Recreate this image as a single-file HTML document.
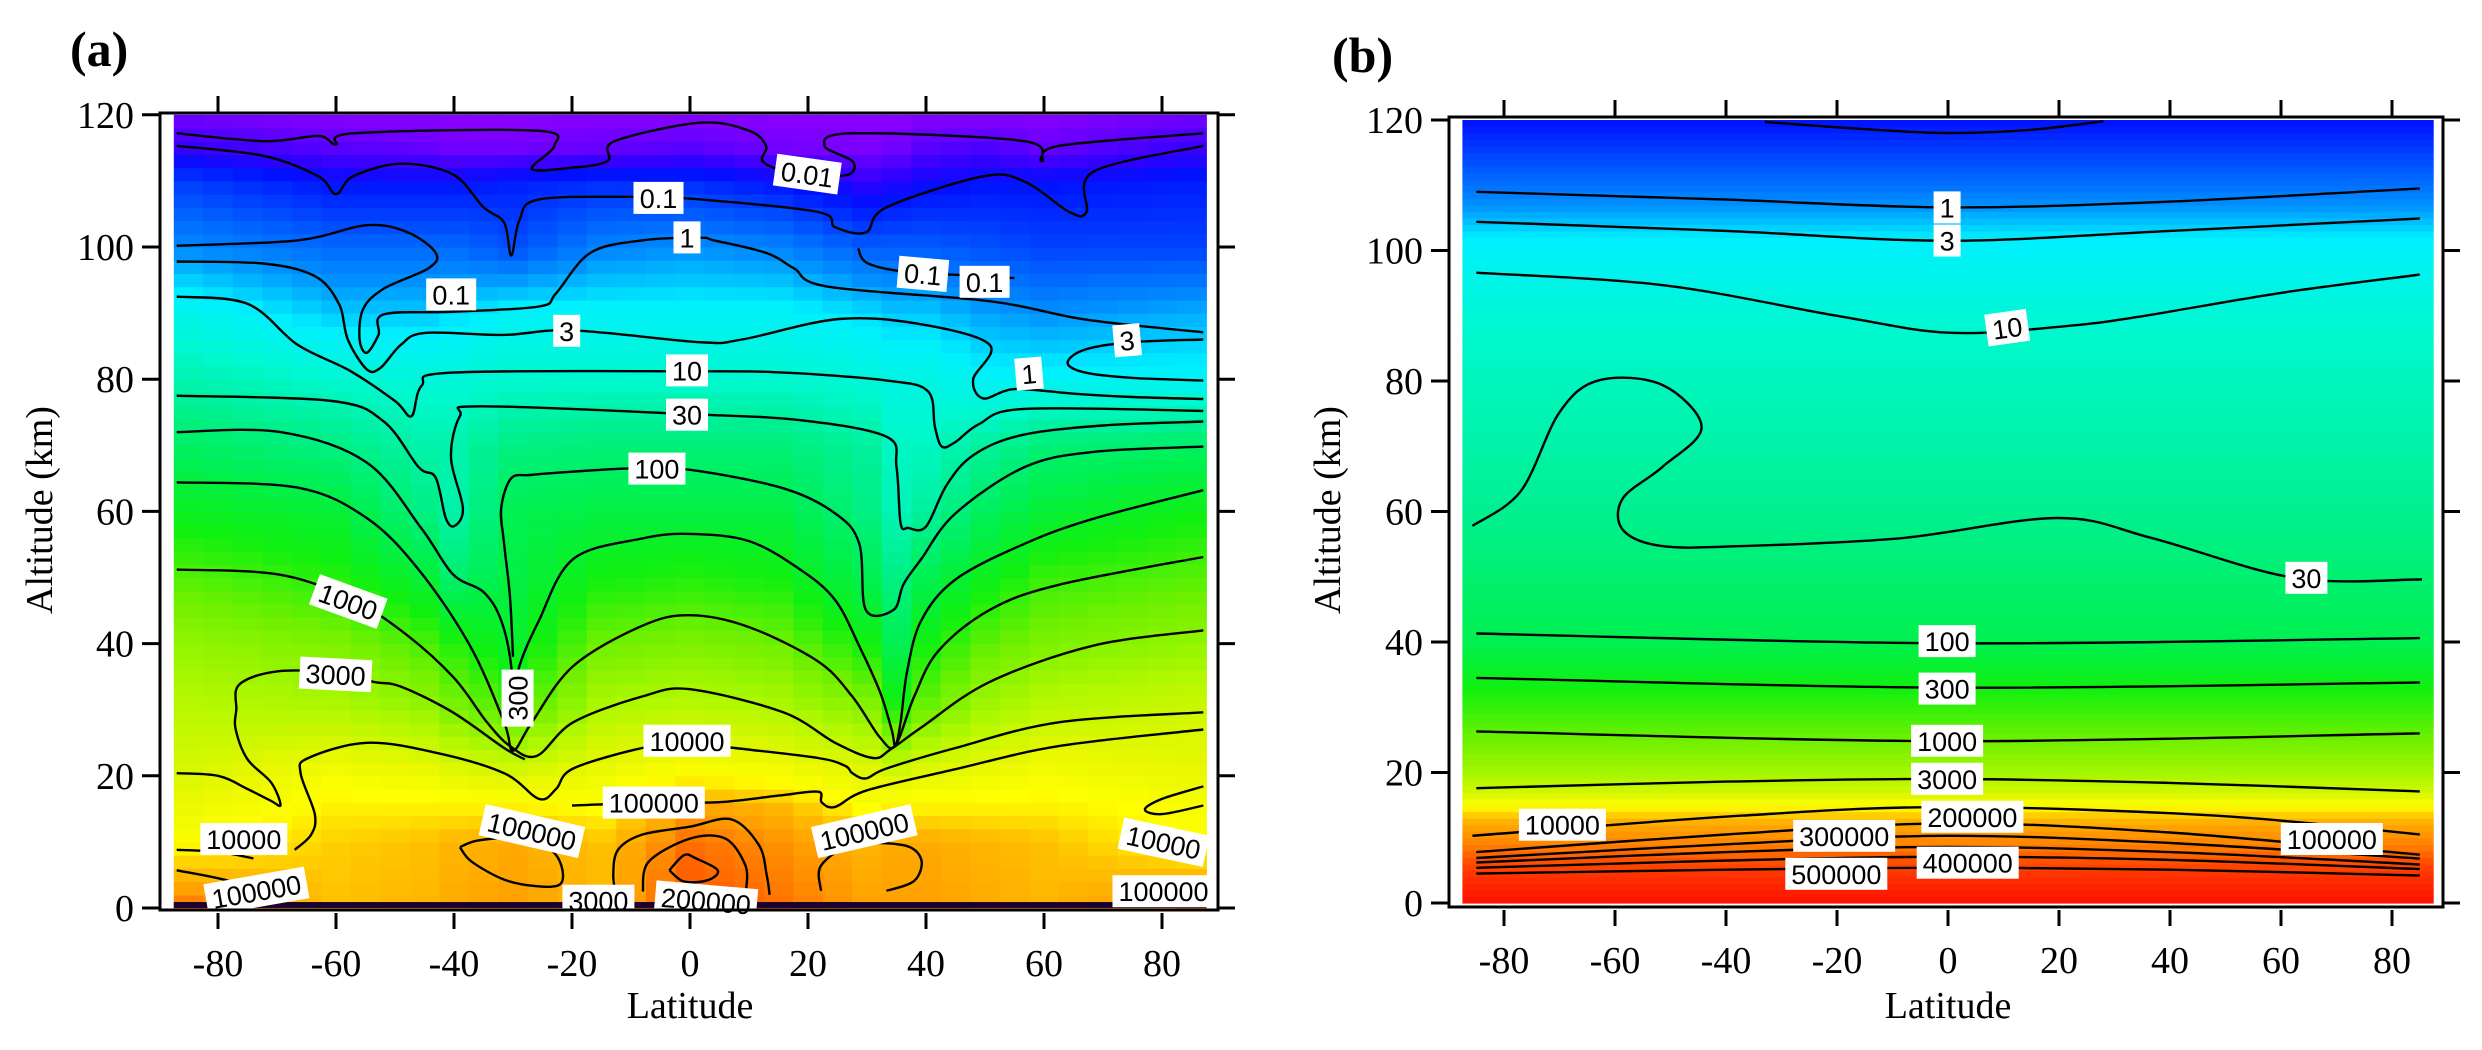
<!DOCTYPE html>
<html><head><meta charset="utf-8"><style>
html,body{margin:0;padding:0;background:#fff;}
svg{display:block;}
.tk{font-family:"Liberation Serif",serif;font-size:38px;fill:#000;}
.ttl{font-family:"Liberation Serif",serif;font-size:38px;fill:#000;}
.pl{font-family:"Liberation Serif",serif;font-size:50px;font-weight:bold;fill:#000;}
.cl{font-family:"Liberation Sans",sans-serif;font-size:27px;fill:#000;}
</style></head><body>
<svg id="fig" width="2482" height="1050" viewBox="0 0 2482 1050" xmlns="http://www.w3.org/2000/svg">
<text class="pl" x="70" y="66">(a)</text>
<text class="pl" x="1332" y="72">(b)</text>
<g id="fieldA"></g>
<g id="fieldB"></g>
<g id="linesA"></g>
<g id="linesB"></g>
<g id="labelsA"></g>
<g id="labelsB"></g>
<g id="axesA"></g>
<g id="axesB"></g>
<text class="ttl" transform="translate(52,510) rotate(-90)" text-anchor="middle">Altitude (km)</text>
<text class="ttl" x="690" y="1018" text-anchor="middle">Latitude</text>
<text class="ttl" transform="translate(1340,510) rotate(-90)" text-anchor="middle">Altitude (km)</text>
<text class="ttl" x="1948" y="1018" text-anchor="middle">Latitude</text>
</svg>
<script>
// ---------- data ----------
const xTicks = [-80,-60,-40,-20,0,20,40,60,80];
const yTicks = [0,20,40,60,80,100,120];
// panel a: log10 field on grid
const latGridA = [-90,-60,-45,-40,-30,-15,0,15,30,35,40,50,60,90];
const altGridA = [0,10,15,20,30,40,50,60,70,80,90,100,110,115,120];
const logA = [
[5.4,4.7,4.8,4.9,5.0,4.8,5.5,5.3,5.0,5.0,5.0,4.9,4.8,5.3],
[4.2,4.6,4.7,4.8,4.9,4.7,5.3,5.1,4.8,4.9,4.9,4.8,4.7,4.2],
[4.0,4.4,4.4,4.4,4.4,4.3,5.0,4.8,4.3,4.4,4.4,4.4,4.4,4.2],
[3.8,4.2,4.1,4.0,3.9,4.1,4.3,4.2,4.0,3.9,4.0,4.1,4.2,4.0],
[3.6,3.5,3.3,3.1,2.8,3.5,3.6,3.5,3.2,2.6,3.0,3.4,3.6,3.8],
[3.3,3.1,2.8,2.6,2.3,3.0,3.1,3.0,2.5,2.0,2.5,2.9,3.1,3.3],
[2.9,2.6,2.2,1.8,2.1,2.5,2.6,2.5,2.0,1.6,2.0,2.4,2.7,2.9],
[2.4,2.2,1.6,1.3,2.0,2.1,2.1,2.1,1.6,1.2,1.4,1.9,2.2,2.5],
[1.9,1.6,1.3,1.3,1.6,1.7,1.7,1.7,1.4,1.1,1.1,1.4,1.7,1.9],
[1.3,1.0,0.9,0.9,1.0,1.0,1.0,1.0,0.9,0.8,0.8,0.6,0.6,0.6],
[0.8,0.3,0.3,0.4,0.6,0.6,0.6,0.6,0.4,0.3,0.3,0.1,0.0,0.2],
[0.0,-0.3,-0.3,-0.3,-0.5,-0.1,0.0,-0.1,-0.4,-0.4,-0.4,-0.5,-0.6,-0.6],
[-0.6,-1.0,-1.0,-1.0,-0.9,-0.8,-0.8,-1.0,-1.3,-1.2,-1.1,-1.0,-1.0,-0.9],
[-1.3,-1.6,-1.7,-1.8,-1.8,-1.7,-1.6,-1.8,-1.9,-1.8,-1.6,-1.5,-1.7,-1.3],
[-1.8,-2,-2,-2,-2,-2,-2,-2,-2,-2,-2,-2,-2,-1.8]];
// panel b: log10 profile vs altitude
const altB = [0,4.5,5.4,7,8,10,12,14,17,20,25,33,40,60,88,102,107,112,120];
const logB = [6.0,5.7,5.6,5.45,5.3,5.1,4.95,4.5,3.8,3.4,3.0,2.5,2.0,1.5,1.0,0.5,0.0,-0.4,-1.0];
// colormap stops
const cmapV = [-2,-1.3,-1,-0.5,0,0.3,0.5,1,1.5,2,2.5,3,3.5,4,4.3,4.7,5,5.3,5.6,6];
const cmapC = ['#8a00ff','#3000ff','#0010ff','#0050ff','#0090ff','#00c8ff','#00f0ff','#00f8d0','#00f090','#00f050','#10f010','#70f000','#b0f800','#e8f800','#ffff00','#ffc000','#ffa000','#ff7000','#ff4000','#ff1000'];

// panel a contours [lat, alt]
const cA001 = [[-87,117.2],[-72,116],[-63,116.8],[-60,115.5],[-57,117.2],[-26,117.6],[-23,115.3],[-26.8,111.8],[-20,112],[-14,113],[-12.8,116],[1.7,118.8],[10,117.6],[12.9,115.3],[12.3,113],[16,111.5],[22,110.8],[27,111],[27.5,113],[22.8,115.3],[27.5,117.2],[56.7,116],[59.6,113],[62.5,115.3],[87,117.2]];
const cA01 = [[-87,115.3],[-72.3,113.8],[-63,110.7],[-60,108],[-57.1,110.7],[-49,112.6],[-40.2,111],[-35,106],[-31.5,103.7],[-30.3,98.7],[-28.9,104.1],[-25.6,107.2],[-9.3,107.6],[1.7,107.2],[21.7,105.3],[24.6,103],[29.8,102.2],[33.3,106],[49.7,110.7],[56.7,109.9],[64.3,105.3],[67.2,105.3],[68.4,111.4],[87,115.3]];
const cA01b = [[28.5,99.8],[30,97.6],[36,96.3],[45,95.8],[55,95.3]];
const cA1 = [[-87,100.2],[-66.5,101],[-54.8,103.3],[-47.8,102.2],[-43.1,99.1],[-44.3,96.8],[-51.9,93.7],[-55.4,90.6],[-56,86],[-54.8,84],[-52.8,86.7],[-51.9,89.8],[-40.2,90.2],[-25.6,91],[-22.7,93],[-16.9,99.1],[-8.1,101],[1.7,101.4],[4.1,101],[12.9,99.1],[17.6,96.8],[23.4,94],[50.8,91.8],[67.2,89],[87,87.1]];
const cA3 = [[-87,97.8],[-72.3,97.5],[-63.6,95.6],[-59.5,91.4],[-58,86],[-54.8,81.5],[-52.5,81.7],[-49,85.2],[-44.9,87],[-31.5,86.7],[-20,87.4],[1.7,85.6],[8.8,86],[25.2,89.1],[39.2,88.3],[50.8,85.2],[48,80],[49.7,77.1],[55,78.5],[65,77.8],[75,77.3],[87,77]];
const cA3b = [[87,86],[75,85.6],[67,84.5],[64,82.5],[67,81],[75,80.2],[87,79.8]];
const cA10 = [[-87,92.5],[-75,91.4],[-66.5,85.2],[-57.7,81.3],[-50,76.7],[-47.2,74.4],[-45.5,79],[-40.2,81],[0,81.2],[15.8,81],[33.3,79.8],[40.3,78.2],[41.5,72.8],[42.7,69.8],[45,70.5],[49,73.2],[56.7,75.5],[87,75.2]];
const cA30 = [[-87,77.5],[-60.7,76.7],[-51.9,73.6],[-46,66.7],[-43.1,65.1],[-41.4,59],[-39.9,57.8],[-38.5,60.5],[-40.5,68.2],[-39,74.4],[-35.5,75.9],[0,74.7],[18.7,73.8],[33.3,71.3],[35,66.7],[35.7,58.2],[37,57.5],[40,57.7],[43.5,64],[48,68.5],[56,71.5],[70,73],[87,73.6]];
const cA100 = [[-30,38],[-30.5,47],[-31.5,55.1],[-32,60.5],[-30.3,65],[-27,65.5],[-20,66],[-10,66.5],[0,66.3],[15.8,63.5],[24.6,59.7],[28.7,55.1],[29.8,45.1],[34.5,45.1],[36.2,49],[39.2,52.8],[45,59.7],[56.7,66.7],[68.4,69],[87,69.8]];
const cAB = [[-87,72],[-69.4,72],[-54.8,67.4],[-45.5,57.4],[-40.2,50.5],[-35,47.8],[-32,43.5],[-30.3,36.6],[-30,29],[-29.1,36],[-25.6,43.5],[-19.8,52.8],[-8.1,55.9],[0,56.6],[10,55.5],[18.7,51.2],[24.6,46.6],[28.7,39.6],[32.2,32.7],[34.2,26.9],[34.8,24.6],[35.7,28.1],[36.8,35.8],[39.2,43.5],[45,49.7],[56.7,55.1],[68.4,58.9],[87,63.2]];
const cAC = [[-87,64.4],[-66.5,63.6],[-54.8,59],[-46,51.2],[-37.3,39.7],[-31.5,28.1],[-30,23.8],[-26.8,28.1],[-19.8,36.6],[-8.1,42.7],[0,44.3],[10,42.5],[21.7,37.3],[27.5,32],[32.2,25.8],[34.8,24.6],[38,32],[42.1,38.9],[50.8,45.1],[62.5,48.9],[87,53.1]];
const cAD = [[-87,51.2],[-70,50.5],[-58,47],[-49,42],[-40.2,35],[-34.4,28.1],[-30.5,24.5],[-26,23],[-19.8,28.1],[-8.1,32],[0,33.1],[15.8,29.6],[24.6,25],[31,22.7],[34,24],[39.2,27.3],[50.8,34.2],[68.4,39.7],[87,42]];
const cAE = [[-87,20.4],[-80,20],[-75,18],[-71,16.2],[-69.4,15.6],[-71,19],[-75,22.5],[-77,27],[-76.9,30],[-76.4,33.8],[-70,35.8],[-60,35.6],[-53.6,34.2],[-49,33.5],[-40.2,29.6],[-31.5,24.2],[-28,22.5]];
const cAF = [[-67,8.8],[-64.2,11.1],[-63.6,14.2],[-66,20.4],[-64.7,22.7],[-54.8,25],[-43.1,23.5],[-31.5,20.4],[-25.6,16.5],[-22.7,18],[-19.8,21.1],[-8.1,24.2],[0,25],[7.6,24.2],[21.7,22.7],[26.3,21.5],[27.5,20.4],[29.8,19.6],[33.3,21.1],[45,24.2],[62.5,28.1],[87,29.6]];
const cAG = [[-20,15.5],[-5,16],[5,16],[15,17],[21.7,17.6],[22.3,16],[24.6,15.3],[30,17.8],[45,21],[62.5,24.5],[87,27]];
const cAL1 = [[-87,5.7],[-78.2,4.1],[-72.3,1.8]];
const cAL2 = [[-87,8.8],[-80,8.5],[-74,7.5]];
const cAH = [[-39,9.2],[-37,7],[-31.5,4.3],[-26,3.3],[-22,3.6],[-21.8,6.4],[-24,9],[-30,10.5],[-36,10.2],[-39,9.2]];
const cAO1 = [[-12.5,1.8],[-13,5],[-12.2,8.8],[-8.1,11.1],[0,12.3],[7,13.4],[11.7,9.5],[13,5],[13.5,2]];
const cAO2 = [[-8,2.5],[-7,7],[0,10.5],[6,10.5],[9.4,6.4],[9.5,2.5]];
const cAO3 = [[-3.5,5.7],[-1,8],[1,7.5],[4.7,5.7],[3,4.2],[-1,4],[-3.5,5.7]];
const cAR = [[22.2,2.6],[22.2,6.4],[27.5,9.5],[36.2,9.5],[39.2,7.3],[38,4.1],[33.3,2.6]];
const cARc = [[87,18.4],[80,16.5],[77.1,14.9],[80,14.2],[87,15.5]];
const contoursA = [cA001,cA01,cA01b,cA1,cA3,cA3b,cA10,cA30,cA100,cAB,cAC,cAD,cAE,cAF,cAG,cAL1,cAL2,cAH,cAO1,cAO2,cAO3,cAR,cARc];
const contourNamesA = ['0.01','0.1','0.1-b','1','3','3-b','10','30','100','300','1000','3000','3000-b','10000','100000','100000-sw','10000-w','100000-c','200000','300000','400000','100000-e','10000-e'];

// panel b contours
const cBtop = [[-33,119.7],[-15,118.6],[0,118],[15,118.5],[28,119.8]];
const cB1 = [[-85,109],[-40,107.8],[0,106.6],[40,107.5],[85,109.5]];
const cB3 = [[-85,104.4],[-40,103],[0,101.5],[40,103],[85,104.9]];
const cB10 = [[-85,96.6],[-51.5,94.7],[-20,90],[0,87.4],[20,88.3],[34,89.8],[60,93.5],[85,96.3]];
const cB30 = [[-85.7,57.8],[-77,63.1],[-70,75.2],[-62.9,80.1],[-51.5,79.4],[-44.4,72.9],[-51.5,66.8],[-58.6,62],[-58.6,57.2],[-51.5,54.7],[-37.2,54.7],[-8.7,55.9],[19.8,59],[36.9,55.9],[62.6,49.8],[85.4,49.6]];
const cB100 = [[-85,41.3],[0,39.8],[85,40.6]];
const cB300 = [[-85,34.5],[0,33],[85,33.8]];
const cB1000 = [[-85,26.3],[0,24.8],[85,26]];
const cB3000 = [[-85,17.6],[-40,18.6],[0,19],[40,18.4],[85,17.1]];
const cB1e4 = [[-85.7,10.3],[-37,13.4],[0,14.7],[48,13.4],[85,10.5]];
const cB1e5 = [[-85,7.8],[-40,10.5],[0,12.2],[40,10.8],[85,7.4]];
const cB2e5 = [[-85,6.9],[-40,9],[0,10.3],[40,9.2],[85,6.8]];
const cB3e5 = [[-85,6.2],[-40,7.8],[0,8.6],[40,7.8],[85,5.9]];
const cB4e5 = [[-85,5.4],[-40,6.5],[0,7.1],[40,6.6],[85,5.2]];
const cB5e5 = [[-85,4.5],[-40,5.1],[0,5.4],[40,5.1],[85,4.2]];
const contoursB = [cBtop,cB1,cB3,cB10,cB30,cB100,cB300,cB1000,cB3000,cB1e4,cB1e5,cB2e5,cB3e5,cB4e5,cB5e5];
const contourNamesB = ['0.3','1','3','10','30','100','300','1000','3000','10000','100000','200000','300000','400000','500000'];

// contour labels (text, displayed-image position, rotation)
const labTextA = ['0.01','0.1','1','0.1','0.1','0.1','3','3','10','1','30','100','1000','3000','300','10000','100000','100000','100000','10000','10000','3000','200000','100000','100000'];
const labPosA = [[510,110,8],[416,125,0],[434,150,0],[285,186,0],[583,173,5],[622,178,0],[358,209,0],[712,215,-5],[434,234,0],[650,236,-5],[434,262,0],[415,296,0],[220,380,20],[212,426,3],[327,441,-90],[434,468,0],[413,507,0],[336,525,13],[546,525,-13],[154,530,0],[735,532,12],[378,569,0],[446,569,5],[162,563,-10],[735,563,0]];
const labTextB = ['1','3','10','30','100','300','1000','3000','10000','200000','300000','100000','400000','500000'];
const labPosB = [[1230,131,0],[1230,152,0],[1268,207,-8],[1457,365,0],[1230,405,0],[1230,435,0],[1230,468,0],[1230,492,0],[987,521,0],[1246,516,0],[1165,528,0],[1473,530,0],[1243,545,0],[1160,552,0]];

// ---------- scales ----------
const xA = lat => 690 + lat*5.9;
const yA = alt => 908 - alt*6.61;
const xB = lat => 1948 + lat*5.55;
const yB = alt => 903 - alt*6.525;
const NS = 'http://www.w3.org/2000/svg';
function mk(tag, attrs, parent){ const e=document.createElementNS(NS,tag); for(const k in attrs) e.setAttribute(k,attrs[k]); parent.appendChild(e); return e; }
function hex(c){return [parseInt(c.slice(1,3),16),parseInt(c.slice(3,5),16),parseInt(c.slice(5,7),16)];}
function cmap(v){
  if(v<=cmapV[0]) return cmapC[0];
  for(let i=0;i<cmapV.length-1;i++){
    if(v<=cmapV[i+1]){ const t=(v-cmapV[i])/(cmapV[i+1]-cmapV[i]); const a=hex(cmapC[i]),b=hex(cmapC[i+1]);
      return 'rgb('+a.map((x,j)=>Math.round(x+(b[j]-x)*t)).join(',')+')'; }
  }
  return cmapC[cmapC.length-1];
}
function idx(arr,v){ for(let i=0;i<arr.length-1;i++){ if(v<=arr[i+1]) return [i,(v-arr[i])/(arr[i+1]-arr[i])]; } return [arr.length-2,1]; }
function interp1(xs,ys,v){ const [i,t]=idx(xs,v); return ys[i]+(ys[i+1]-ys[i])*t; }
function fieldA(lat,alt){ const [i,ti]=idx(altGridA,alt), [j,tj]=idx(latGridA,lat);
  const a=logA[i][j],b=logA[i][j+1],c=logA[i+1][j],d=logA[i+1][j+1];
  return (a*(1-tj)+b*tj)*(1-ti)+(c*(1-tj)+d*tj)*ti; }

// ---------- colour fields ----------
const fA=document.getElementById('fieldA');
for(let lat=-87.5; lat<87.4; lat+=5){
  for(let alt=0; alt<120; alt+=2){
    const r=mk('rect',{x:xA(lat).toFixed(1),y:yA(alt+2).toFixed(1),width:(5*5.9+0.6).toFixed(1),height:(2*6.61+0.6).toFixed(1),fill:cmap(fieldA(lat+2.5,alt+1))},fA);
    
    
  }
}
const baseA=mk('rect',{x:xA(-87.5),y:yA(0.9),width:(175*5.9).toFixed(1),height:(0.9*6.61).toFixed(1),fill:'#1a0030'},fA);


const fB=document.getElementById('fieldB');
for(let alt=0; alt<120; alt+=1){
  const r=mk('rect',{x:xB(-87.5).toFixed(1),y:yB(alt+1).toFixed(1),width:(175*5.55).toFixed(1),height:(6.525+0.6).toFixed(1),fill:cmap(interp1(altB,logB,alt+0.5))},fB);
  
  
}

// ---------- contours ----------
function pathFrom(pts,sx,sy){
  const p=pts.map(d=>[sx(d[0]),sy(d[1])]);
  let s='M'+p[0][0].toFixed(1)+','+p[0][1].toFixed(1);
  for(let i=0;i<p.length-1;i++){
    const p0=p[i-1]||p[i],p1=p[i],p2=p[i+1],p3=p[i+2]||p[i+1];
    const c1=[p1[0]+(p2[0]-p0[0])/6,p1[1]+(p2[1]-p0[1])/6], c2=[p2[0]-(p3[0]-p1[0])/6,p2[1]-(p3[1]-p1[1])/6];
    s+=' C'+c1.map(v=>v.toFixed(1))+' '+c2.map(v=>v.toFixed(1))+' '+p2.map(v=>v.toFixed(1));
  }
  return s;
}
const lA=document.getElementById('linesA');
contoursA.forEach((c,i)=>{
  const e=mk('path',{d:pathFrom(c,xA,yA),fill:'none',stroke:'#000','stroke-width':2.4},lA);
  
  
});
const lB=document.getElementById('linesB');
contoursB.forEach((c,i)=>{
  const e=mk('path',{d:pathFrom(c,xB,yB),fill:'none',stroke:'#000','stroke-width':2.4},lB);
  
  
});

// ---------- contour labels ----------
function labels(texts,pos,gid,prefix){
  const g=document.getElementById(gid);
  texts.forEach((t,i)=>{
    const [dx,dy,rot]=pos[i]; const x=dx*1.583,y=dy*1.583;
    const w=t.replace('.','').length*15+(t.includes('.')?8:0)+12;
    const gg=mk('g',{transform:'translate('+x.toFixed(1)+','+y.toFixed(1)+') rotate('+rot+')'},g);
    
    
    mk('rect',{x:-w/2,y:-16,width:w,height:32,fill:'#fff'},gg);
    const tx=mk('text',{x:0,y:10,'text-anchor':'middle',class:'cl'},gg); tx.textContent=t;
  });
}
labels(labTextA,labPosA,'labelsA','contour-a');
labels(labTextB,labPosB,'labelsB','contour-b');

// ---------- axes ----------
function axes(gid,prefix,L,R,T,Bt,sx,sy){
  const g=document.getElementById(gid);
  const fr=mk('rect',{x:L,y:T,width:R-L,height:Bt-T,fill:'none',stroke:'#000','stroke-width':3},g);
  
  
  xTicks.forEach(v=>{
    const x=sx(v);
    mk('line',{x1:x,x2:x,y1:Bt+3,y2:Bt+19,stroke:'#000','stroke-width':3},g);
    mk('line',{x1:x,x2:x,y1:T-17,y2:T,stroke:'#000','stroke-width':3},g);
    const t=mk('text',{x:x,y:Bt+66,'text-anchor':'middle',class:'tk'},g); t.textContent=v;
    
    
  });
  yTicks.forEach(v=>{
    const y=sy(v);
    mk('line',{x1:L-18,x2:L,y1:y,y2:y,stroke:'#000','stroke-width':3},g);
    mk('line',{x1:R,x2:R+17,y1:y,y2:y,stroke:'#000','stroke-width':3},g);
    const t=mk('text',{x:L-26,y:y+13,'text-anchor':'end',class:'tk'},g); t.textContent=v;
    
    
  });
}
axes('axesA','panel-a',160,1218,113,910,xA,yA);
axes('axesB','panel-b',1449,2443,117,907,xB,yB);
</script>
</body></html>
